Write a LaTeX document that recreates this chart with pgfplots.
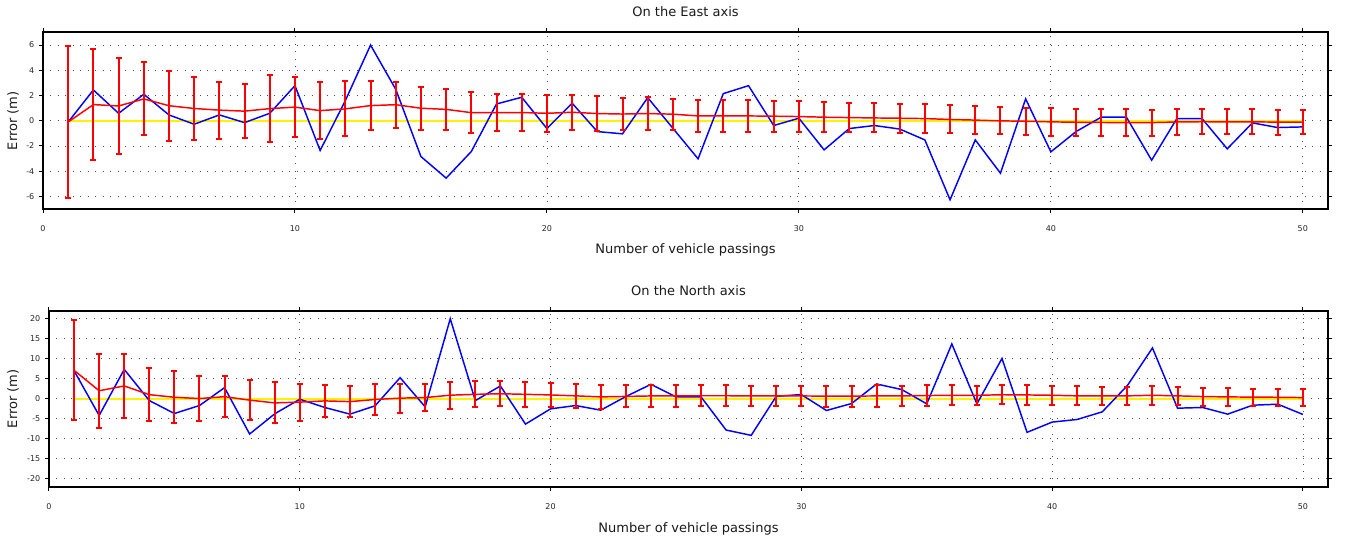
\documentclass[border=0pt]{standalone}
\usepackage{fontspec}
\setmainfont{DejaVu Sans}
\usepackage{pgfplots}
\usepackage{pgfplotstable}
\pgfplotsset{compat=1.18}

\pgfplotstableread{
x blue mean err
1 -0.10 -0.10 6.05
2 2.44 1.28 4.38
3 0.59 1.17 3.83
4 2.10 1.73 2.90
5 0.46 1.19 2.78
6 -0.28 0.97 2.50
7 0.46 0.84 2.25
8 -0.15 0.76 2.12
9 0.59 0.96 2.64
10 2.78 1.08 2.41
11 -2.36 0.80 2.25
12 1.60 0.94 2.19
13 6.00 1.20 1.95
14 2.49 1.27 1.82
15 -2.84 0.99 1.72
16 -4.55 0.90 1.65
17 -2.44 0.64 1.60
18 1.33 0.64 1.49
19 1.86 0.65 1.46
20 -0.62 0.59 1.48
21 1.39 0.67 1.40
22 -0.86 0.57 1.37
23 -1.04 0.53 1.30
24 1.83 0.57 1.30
25 -0.60 0.52 1.22
26 -3.02 0.38 1.27
27 2.15 0.38 1.27
28 2.78 0.38 1.27
29 -0.38 0.36 1.24
30 0.20 0.33 1.24
31 -2.31 0.28 1.17
32 -0.62 0.25 1.16
33 -0.38 0.22 1.15
34 -0.66 0.20 1.14
35 -1.52 0.17 1.13
36 -6.27 0.10 1.11
37 -1.52 0.05 1.11
38 -4.16 -0.01 1.08
39 1.73 -0.04 1.08
40 -2.47 -0.09 1.10
41 -0.86 -0.12 1.07
42 0.28 -0.14 1.07
43 0.28 -0.15 1.05
44 -3.13 -0.15 1.04
45 0.17 -0.10 1.03
46 0.17 -0.08 1.00
47 -2.23 -0.09 0.99
48 -0.17 -0.09 0.99
49 -0.54 -0.11 0.99
50 -0.49 -0.12 0.96
}\east

\pgfplotstableread{
x blue mean err
1 7.00 7.10 12.46
2 -4.18 2.00 9.20
3 7.33 3.20 7.98
4 -0.46 1.02 6.67
5 -3.69 0.37 6.55
6 -1.70 0.05 5.67
7 2.77 0.52 5.17
8 -8.82 -0.35 4.93
9 -3.77 -1.04 5.14
10 -0.12 -0.85 4.60
11 -2.19 -0.54 3.97
12 -3.85 -0.72 3.93
13 -1.78 -0.19 3.77
14 5.26 0.15 3.60
15 -2.03 0.29 3.48
16 20.00 0.89 3.35
17 -0.46 1.10 3.27
18 3.19 1.25 3.15
19 -6.34 1.10 3.06
20 -2.53 0.95 3.06
21 -1.70 0.72 2.98
22 -2.86 0.46 2.98
23 0.54 0.58 2.77
24 3.60 0.70 2.65
25 0.46 0.70 2.69
26 0.46 0.75 2.69
27 -7.83 0.75 2.69
28 -9.15 0.70 2.57
29 0.62 0.70 2.53
30 1.04 0.70 2.57
31 -2.94 0.65 2.65
32 -1.20 0.65 2.65
33 3.69 0.70 2.65
34 2.30 0.72 2.52
35 -1.28 0.79 2.52
36 13.70 0.87 2.48
37 -1.28 0.85 2.45
38 10.06 1.00 2.40
39 -8.40 0.95 2.40
40 -5.84 0.87 2.36
41 -5.18 0.72 2.36
42 -3.27 0.70 2.32
43 3.30 0.72 2.32
44 12.70 0.87 2.32
45 -2.36 0.72 2.24
46 -2.19 0.54 2.24
47 -3.85 0.46 2.20
48 -1.61 0.40 2.11
49 -1.37 0.37 2.07
50 -3.93 0.29 2.15
}\north

\pgfplotsset{
  myax/.style={
    scale only axis,
    xmin=0, xmax=51,
    xtick={0,10,...,50},
    grid=major,
    major grid style={black!70, line width=0.6pt, dash pattern=on 0.6pt off 5pt},
    tick align=outside,
    tick pos=both,
    major tick length=3pt,
    every tick/.style={black, line width=0.75pt},
    axis line style={line width=1.5pt},
    tick label style={font=\fontsize{6}{7}\selectfont, text=black!85},
    /pgf/number format/assume math mode=true,
    xticklabel style={anchor=base, yshift=-14pt},
    label style={font=\fontsize{9.75}{11}\selectfont, text=black!90},
    every axis title shift=0pt,
    title style={font=\fontsize{9.75}{11}\selectfont, text=black!90, anchor=center},
    xlabel={Number of vehicle passings},
    ylabel={Error (m)},
    xlabel style={at={(0.5,0)}, anchor=base},
  },
  blueline/.style={blue, line width=1.1pt, mark=none},
  yelline/.style={yellow, line width=1.5pt, mark=none},
  redline/.style={red, line width=1.1pt, mark=none,
    error bars/.cd, y dir=both, y explicit,
    error bar style={red, line width=1.5pt},
    error mark options={rotate=90, red, mark size=2.25pt, line width=1.5pt}},
}

\begin{document}
\begin{tikzpicture}
\useasboundingbox (0,0) rectangle (1008.75pt,404.25pt);

\begin{axis}[myax,
  at={(32.25pt,247.5pt)}, anchor=south west,
  width=963.75pt, height=132.4pt,
  ymin=-7, ymax=7, ytick={-6,-4,...,6},
  title={On the East axis},
  title style={at={(axis description cs:0.5,1.1163)}},
  xlabel style={yshift=-33.75pt},
  ylabel style={at={(axis description cs:-0.02335,0.5)}, anchor=center},
]
\addplot[yelline] coordinates {(1,0) (50,0)};
\addplot[blueline] table[x=x, y=blue] {\east};
\addplot[redline] table[x=x, y=mean, y error=err] {\east};
\end{axis}

\begin{axis}[myax,
  at={(36.75pt,39.2pt)}, anchor=south west,
  width=959.25pt, height=132pt,
  ymin=-22, ymax=22, ytick={-20,-15,...,20},
  title={On the North axis},
  title style={at={(axis description cs:0.5,1.1159)}},
  xlabel style={yshift=-34.5pt},
  ylabel style={at={(axis description cs:-0.02815,0.5)}, anchor=center},
]
\addplot[yelline] coordinates {(1,0) (50,0)};
\addplot[blueline] table[x=x, y=blue] {\north};
\addplot[redline] table[x=x, y=mean, y error=err] {\north};
\end{axis}
\end{tikzpicture}
\end{document}
